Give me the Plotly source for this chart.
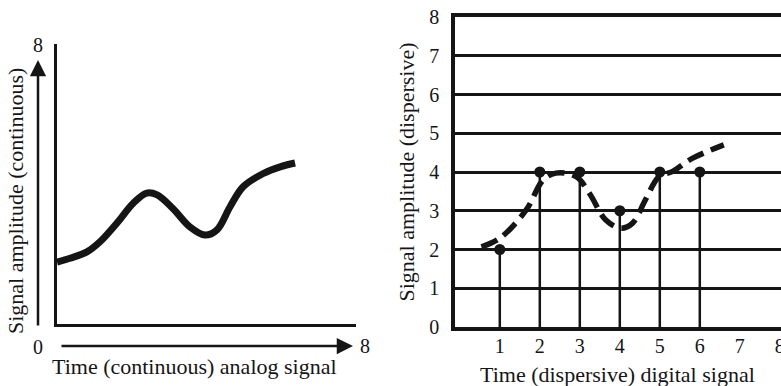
import plotly.graph_objects as go

# ---------------- data ----------------
# Left panel: continuous analog signal
analog_t = [0.0, 0.35, 0.8, 1.15, 1.6, 2.04, 2.4, 2.68, 3.1, 3.56, 3.96, 4.28, 4.63, 4.98, 5.52, 5.97, 6.37]
analog_amp = [1.77, 1.88, 2.06, 2.35, 2.88, 3.45, 3.74, 3.69, 3.3, 2.77, 2.54, 2.69, 3.35, 3.92, 4.3, 4.49, 4.6]

# Right panel: dashed underlying signal
dash_t = [0.54, 1.0, 1.66, 2.08, 2.4, 2.91, 3.24, 3.65, 4.03, 4.32, 4.64, 4.98, 5.31, 5.81, 6.6]
dash_amp = [2.07, 2.29, 3.02, 3.79, 3.97, 3.88, 3.45, 2.76, 2.55, 2.68, 3.28, 3.88, 4.01, 4.35, 4.7]

# Right panel: sampled (digital) values
sample_t = [1, 2, 3, 4, 5, 6]
sample_amp = [2, 4, 4, 3, 4, 4]

x_ticks = [1, 2, 3, 4, 5, 6, 7, 8]
x_tick_labels = ["1", "2", "3", "4", "5", "6", "7", "8"]
y_ticks = [0, 1, 2, 3, 4, 5, 6, 7, 8]
y_tick_labels = ["0", "1", "2", "3", "4", "5", "6", "7", "8"]

left_x_title = "Time (continuous) analog signal"
left_y_title = "Signal amplitude (continuous)"
right_x_title = "Time (dispersive) digital signal"
right_y_title = "Signal amplitude (dispersive)"

# left panel end-of-axis labels
left_end_labels = ["8", "0", "8"]

FONT = "Liberation Serif"
W, H = 781, 386
INK = "#151515"
TICK_SIZE = 20
TITLE_SIZE = 22


def px_x(p):
    return p / W


def px_y(p):
    return (H - p) / H


fig = go.Figure()

# ---- left panel ----
fig.add_trace(go.Scatter(
    x=analog_t, y=analog_amp, mode="lines",
    line=dict(color=INK, width=7, shape="spline", smoothing=1.0),
    xaxis="x", yaxis="y", showlegend=False, hoverinfo="skip"))

# ---- right panel ----
stem_x, stem_y = [], []
for t, a in zip(sample_t, sample_amp):
    stem_x += [t, t, None]
    stem_y += [0, a, None]
fig.add_trace(go.Scatter(
    x=stem_x, y=stem_y, mode="lines",
    line=dict(color=INK, width=2.5),
    xaxis="x2", yaxis="y2", showlegend=False, hoverinfo="skip"))
fig.add_trace(go.Scatter(
    x=dash_t, y=dash_amp, mode="lines",
    line=dict(color=INK, width=5.5, shape="spline", dash="17px,8px"),
    xaxis="x2", yaxis="y2", showlegend=False, hoverinfo="skip"))
fig.add_trace(go.Scatter(
    x=sample_t, y=sample_amp, mode="markers",
    marker=dict(color=INK, size=11),
    xaxis="x2", yaxis="y2", showlegend=False, hoverinfo="skip", cliponaxis=False))

fig.update_layout(
    width=W, height=H,
    margin=dict(l=0, r=0, t=0, b=0, pad=0, autoexpand=False),
    paper_bgcolor="white", plot_bgcolor="white",
    showlegend=False,
    font=dict(family=FONT, size=TICK_SIZE, color=INK),
    xaxis=dict(domain=[px_x(57), px_x(356)], range=[0, 8], showline=True, linecolor=INK,
               linewidth=3, showgrid=False, zeroline=False, showticklabels=False, ticks="",
               automargin=False, fixedrange=True),
    yaxis=dict(domain=[px_y(324), px_y(44)], range=[0, 8], showline=True, linecolor=INK,
               linewidth=3, showgrid=False, zeroline=False, showticklabels=False, ticks="",
               automargin=False, fixedrange=True),
    xaxis2=dict(domain=[px_x(455), 1.0], range=[-0.12, 8.03], showline=True, linecolor=INK,
                linewidth=3.5, mirror=True, showgrid=False, zeroline=False,
                tickvals=x_ticks, ticktext=x_tick_labels, ticklabeloverflow="allow",
                ticks="", ticklabelstandoff=-2, anchor="y2", automargin=False,
                tickfont=dict(size=TICK_SIZE), fixedrange=True),
    yaxis2=dict(domain=[px_y(327), px_y(17)], range=[0, 8], showline=True, linecolor=INK,
                linewidth=3.5, showgrid=True, gridcolor=INK, gridwidth=2.5, zeroline=False,
                tickvals=y_ticks, ticktext=y_tick_labels, ticks="", ticklabelstandoff=8, anchor="x2",
                ticklabeloverflow="allow", automargin=False,
                title=dict(text=right_y_title, standoff=10, font=dict(size=TITLE_SIZE)),
                tickfont=dict(size=TICK_SIZE), fixedrange=True),
)

annotations = []
# left panel end labels (pixel positions of the reference layout)
label_pos = [(38, 45), (38, 347), (365, 346)]
for txt, (lx, ly) in zip(left_end_labels, label_pos):
    annotations.append(dict(text=txt, x=px_x(lx), y=px_y(ly), xref="paper", yref="paper",
                            showarrow=False, font=dict(size=TICK_SIZE), xanchor="center", yanchor="middle"))
# arrows (left panel)
annotations.append(dict(x=px_x(38), y=px_y(60), ax=0, ay=267, xref="paper", yref="paper",
                        axref="pixel", ayref="pixel",
                        text="", showarrow=True, arrowhead=2, arrowsize=1.3, arrowwidth=2.5,
                        arrowcolor=INK))
annotations.append(dict(x=px_x(353), y=px_y(346), ax=-293, ay=0, xref="paper", yref="paper",
                        axref="pixel", ayref="pixel",
                        text="", showarrow=True, arrowhead=2, arrowsize=1.3, arrowwidth=2.5,
                        arrowcolor=INK))
# axis titles
annotations.append(dict(text=left_x_title, x=px_x(194), y=px_y(366), xref="paper", yref="paper",
                        showarrow=False, font=dict(size=TITLE_SIZE), xanchor="center", yanchor="middle"))
annotations.append(dict(text=left_y_title, x=px_x(15), y=px_y(201), xref="paper", yref="paper",
                        showarrow=False, font=dict(size=TITLE_SIZE), textangle=-90,
                        xanchor="center", yanchor="middle"))
annotations.append(dict(text=right_x_title, x=px_x(617), y=px_y(374), xref="paper", yref="paper",
                        showarrow=False, font=dict(size=TITLE_SIZE), xanchor="center", yanchor="middle"))
fig.update_layout(annotations=annotations)

fig.write_html("out.html", config={"displayModeBar": False},
               post_script="document.body.style.margin='0';document.body.style.overflow='hidden';")
